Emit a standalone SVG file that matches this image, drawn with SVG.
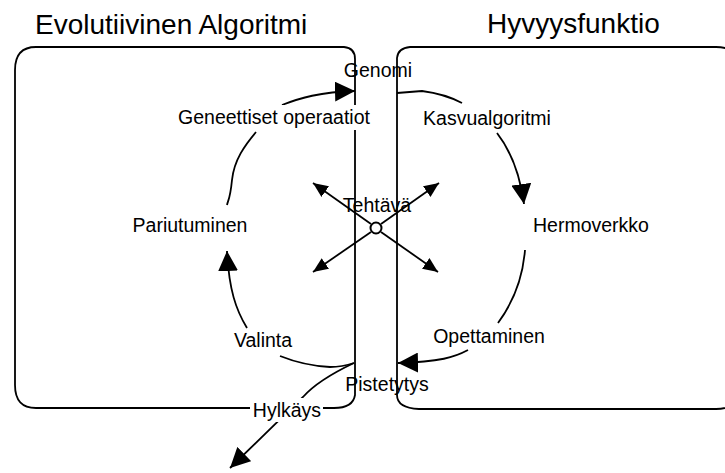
<svg xmlns="http://www.w3.org/2000/svg" width="725" height="473" viewBox="0 0 725 473">
  <style>
    .frame { fill: none; stroke: #000; stroke-width: 1.8; }
    .link { fill: none; stroke: #000; stroke-width: 1.8; }
    .title { font-family: "Liberation Sans", Arial, sans-serif; font-size: 28px; fill: #000; }
    .lbl { font-family: "Liberation Sans", Arial, sans-serif; font-size: 19.5px; fill: #000; text-anchor: middle; }
    .bg { fill: #fff; }
  </style>
  <defs>
    <marker id="head" viewBox="0 0 20 20" refX="20" refY="10" markerWidth="20" markerHeight="20" orient="auto" markerUnits="userSpaceOnUse">
      <path d="M0,0 L20,10 L0,20 Z" fill="#000"/>
    </marker>
    <marker id="headSmall" viewBox="0 0 15 13" refX="15" refY="6.5" markerWidth="15" markerHeight="13" orient="auto" markerUnits="userSpaceOnUse">
      <path d="M0,0 L15,6.5 L0,13 Z" fill="#000"/>
    </marker>
  </defs>

  <!-- frames and titles -->
  <g id="evolutiivinen-algoritmi">
    <path class="frame" d="M36,47 H344 Q355,48 355,59 V395 Q353,408 334,408 H36 Q15,408 15,385 V70 Q15,47 36,47 Z"/>
    <text class="title" x="35" y="34">Evolutiivinen Algoritmi</text>
  </g>
  <g id="hyvyysfunktio">
    <path class="frame" d="M410,47 H716 Q740,47 740,70 V385 Q740,409 716,409 H419 Q397,408 397,395 V58 Q398,48 410,47 Z"/>
    <text class="title" x="487" y="33">Hyvyysfunktio</text>
  </g>

  <!-- connectors -->
  <g id="connectors">
    <path class="link" d="M282,105 C300,98 320,92 355,91" marker-end="url(#head)"/>
    <path class="link" d="M256,132 C245,145 234,160 232,180 S228,200 227,205"/>
    <path class="link" d="M247,328 C236,310 229,290 227,251" marker-end="url(#head)"/>
    <path class="link" d="M280,356 C295,362 310,366 330,367 Q342,367 354,363"/>
    <path class="link" d="M354,363 Q318,380 303,397 L230,468" marker-end="url(#head)"/>
    <path class="link" d="M468,350 C455,357 440,362 398,363" marker-end="url(#head)"/>
    <path class="link" d="M397,93 L422,91 Q445,94 462,103"/>
    <path class="link" d="M497,133 Q518,160 524,204" marker-end="url(#head)"/>
    <path class="link" d="M525,250 C523,275 515,300 498,323"/>
    <!-- task arrows -->
    <path class="link" d="M371,224 L313,183" marker-end="url(#headSmall)"/>
    <path class="link" d="M381,224 L439,183" marker-end="url(#headSmall)"/>
    <path class="link" d="M371,232 L313,272" marker-end="url(#headSmall)"/>
    <path class="link" d="M381,232 L438,272" marker-end="url(#headSmall)"/>
  </g>

  <g id="tehtava">
    <circle cx="376" cy="228" r="5.5" fill="#fff" stroke="#000" stroke-width="2"/>
    <text class="lbl" x="377" y="212">Tehtävä</text>
  </g>
  <g id="genomi">
    <text class="lbl" x="378" y="77">Genomi</text>
  </g>
  <g id="geneettiset-operaatiot">
    <rect class="bg" x="170" y="105" width="204" height="25"/>
    <text class="lbl" x="274" y="124">Geneettiset operaatiot</text>
  </g>
  <g id="kasvualgoritmi">
    <text class="lbl" x="487" y="125">Kasvualgoritmi</text>
  </g>
  <g id="pariutuminen">
    <text class="lbl" x="190" y="232">Pariutuminen</text>
  </g>
  <g id="hermoverkko">
    <text class="lbl" x="591" y="232">Hermoverkko</text>
  </g>
  <g id="valinta">
    <text class="lbl" x="263" y="347">Valinta</text>
  </g>
  <g id="opettaminen">
    <text class="lbl" x="489" y="343">Opettaminen</text>
  </g>
  <g id="pistetytys">
    <text class="lbl" x="387" y="391">Pistetytys</text>
  </g>
  <g id="hylkays">
    <rect class="bg" x="250" y="398" width="73" height="24"/>
    <text class="lbl" x="287" y="417">Hylkäys</text>
  </g>
</svg>
